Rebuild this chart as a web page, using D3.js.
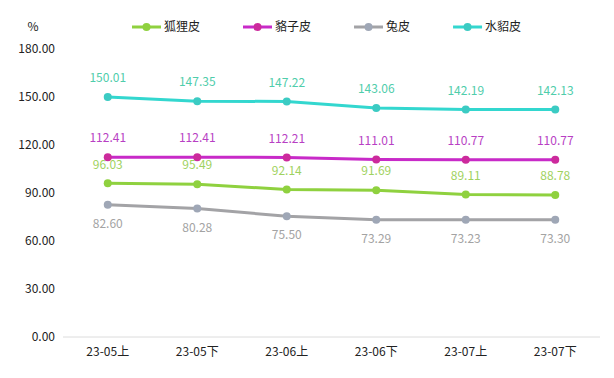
<!DOCTYPE html>
<html>
<head>
<meta charset="utf-8">
<script src="https://cdn.jsdelivr.net/npm/d3@7"></script>
<style>
  body { margin: 0; background: #fff; }
  svg text { font-family: "Noto Sans CJK SC", "Noto Sans", sans-serif; }
</style>
</head>
<body>
<svg id="chart" width="614" height="378"></svg>
<script>
var categories = ['23-05上', '23-05下', '23-06上', '23-06下', '23-07上', '23-07下'];
var seriesNames = ['狐狸皮', '貉子皮', '兔皮', '水貂皮'];
var fox = [96.03, 95.49, 92.14, 91.69, 89.11, 88.78];
var raccoon = [112.41, 112.41, 112.21, 111.01, 110.77, 110.77];
var rabbit = [82.60, 80.28, 75.50, 73.29, 73.23, 73.30];
var mink = [150.01, 147.35, 147.22, 143.06, 142.19, 142.13];
var yTicks = [0, 30, 60, 90, 120, 150, 180];

;(function() {
    var svg = d3.select('#chart');

    var series = [
        {key: seriesNames[0], values: fox, line: '#8fd13f', dot: '#8fd13f', label: '#9fd25f', pos: 'top'},
        {key: seriesNames[1], values: raccoon, line: '#c82ac8', dot: '#cc2a9c', label: '#b83fc4', pos: 'top'},
        {key: seriesNames[2], values: rabbit, line: '#a3a3a6', dot: '#9fa7b6', label: '#a3a3a3', pos: 'bottom'},
        {key: seriesNames[3], values: mink, line: '#33d7cf', dot: '#3ccbc3', label: '#4fcdab', pos: 'top'}
    ];

    var x = d3.scaleBand().domain(categories).range([63, 600]);
    var y = d3.scaleLinear().domain([0, 180]).range([337, 49]);
    var cx = function(d, i){ return x(categories[i]) + x.bandwidth() / 2; };

    // y axis labels
    svg.append('g').selectAll('text.y-tick')
        .data(yTicks)
        .enter().append('text')
        .attr('class', 'y-tick')
        .attr('x', 55)
        .attr('y', function(d){ return y(d); })
        .attr('dy', '0.35em')
        .attr('text-anchor', 'end')
        .attr('font-size', 12)
        .attr('fill', '#222')
        .text(function(d){ return d3.format('.2f')(d); });

    svg.append('text')
        .attr('x', 33)
        .attr('y', 27)
        .attr('dy', '0.35em')
        .attr('text-anchor', 'middle')
        .attr('font-size', 12)
        .attr('fill', '#222')
        .text('%');

    // x axis
    svg.append('line')
        .attr('x1', x.range()[0]).attr('x2', x.range()[1])
        .attr('y1', y(0)).attr('y2', y(0))
        .attr('stroke', '#dcdcdc')
        .attr('stroke-width', 1);

    svg.append('g').selectAll('text.x-tick')
        .data(categories)
        .enter().append('text')
        .attr('class', 'x-tick')
        .attr('x', cx)
        .attr('y', 352)
        .attr('dy', '0.35em')
        .attr('text-anchor', 'middle')
        .attr('font-size', 12)
        .attr('fill', '#222')
        .text(function(d){ return d; });

    var line = d3.line()
        .x(cx)
        .y(function(d){ return y(d); });

    var groups = svg.append('g').selectAll('g.series')
        .data(series)
        .enter().append('g')
        .attr('class', 'series');

    groups.append('path')
        .attr('d', function(s){ return line(s.values); })
        .attr('fill', 'none')
        .attr('stroke', function(s){ return s.line; })
        .attr('stroke-width', 3);

    groups.each(function(s) {
        var g = d3.select(this);
        g.selectAll('circle')
            .data(s.values)
            .enter().append('circle')
            .attr('cx', cx)
            .attr('cy', function(d){ return y(d); })
            .attr('r', 4)
            .attr('fill', s.dot);

        g.selectAll('text.val')
            .data(s.values)
            .enter().append('text')
            .attr('class', 'val')
            .attr('x', cx)
            .attr('y', function(d){ return y(d) + (s.pos === 'top' ? -19 : 19); })
            .attr('dy', '0.35em')
            .attr('text-anchor', 'middle')
            .attr('font-size', 12)
            .attr('fill', s.label)
            .text(function(d){ return d3.format('.2f')(d); });
    });

    // legend
    var legend = svg.append('g').attr('class', 'legend');
    var lx = 132;
    series.forEach(function(s) {
        var item = legend.append('g').attr('transform', 'translate(' + lx + ',27)');
        item.append('line')
            .attr('x1', 0).attr('x2', 29)
            .attr('stroke', s.line)
            .attr('stroke-width', 3);
        item.append('circle')
            .attr('cx', 14.5)
            .attr('r', 4)
            .attr('fill', s.dot);
        var t = item.append('text')
            .attr('x', 32)
            .attr('dy', '0.35em')
            .attr('font-size', 12)
            .attr('fill', '#222')
            .text(s.key);
        lx = lx + 32 + t.node().getComputedTextLength() + 43;
    });
})();
</script>
</body>
</html>
